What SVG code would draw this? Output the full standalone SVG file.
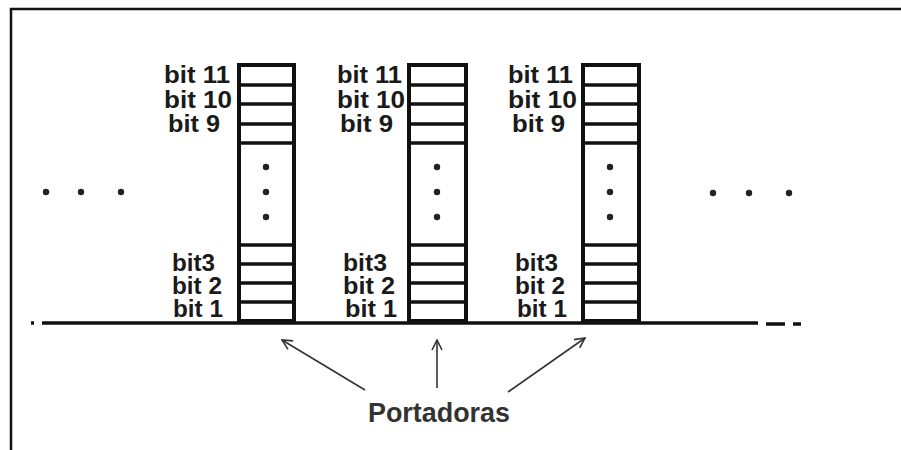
<svg xmlns="http://www.w3.org/2000/svg" width="901" height="450" viewBox="0 0 901 450">
<defs>
<style>
.lbl{font-family:"Liberation Sans",Arial,sans-serif;font-weight:bold;font-size:23.5px;fill:#1a1a1a}
.box{fill:none;stroke:#111;stroke-width:4}
.row{stroke:#111;stroke-width:3.5}
.dot{fill:#222}
.arr{stroke:#333;stroke-width:1.6;fill:none}
</style>
<marker id="ah" viewBox="0 0 12 12" refX="11" refY="6" markerWidth="12" markerHeight="12" markerUnits="userSpaceOnUse" orient="auto">
<path d="M1,1 L11,6 L1,11" fill="none" stroke="#333" stroke-width="1.6"/>
</marker>
</defs>
<rect width="901" height="450" fill="#fff"/>
<!-- frame -->
<path d="M11,450 V9 H901" fill="none" stroke="#111" stroke-width="2.5"/>
<!-- side dots -->
<g id="dots-left">
<circle class="dot" cx="46" cy="192" r="3.2"/>
<circle class="dot" cx="81" cy="192" r="3.2"/>
<circle class="dot" cx="121" cy="192" r="3.2"/>
</g>
<g id="dots-right">
<circle class="dot" cx="713" cy="193" r="3.2"/>
<circle class="dot" cx="749" cy="193" r="3.2"/>
<circle class="dot" cx="789" cy="193" r="3.2"/>
</g>
<!-- baseline -->
<g id="baseline" stroke="#111" stroke-width="3.5">
<line x1="31" y1="323" x2="34" y2="323"/>
<line x1="42" y1="323" x2="758" y2="323"/>
<line x1="766" y1="324" x2="785" y2="324"/>
<line x1="793" y1="324" x2="801" y2="324"/>
</g>
<!-- carrier 1 -->
<g id="carrier1">
<rect class="box" x="239" y="65" width="55" height="256"/>
<g class="row"><line x1="239" y1="85" x2="294" y2="85"/><line x1="239" y1="104" x2="294" y2="104"/><line x1="239" y1="124" x2="294" y2="124"/><line x1="239" y1="143" x2="294" y2="143"/><line x1="239" y1="245" x2="294" y2="245"/><line x1="239" y1="264" x2="294" y2="264"/><line x1="239" y1="283" x2="294" y2="283"/><line x1="239" y1="302" x2="294" y2="302"/></g>
<circle class="dot" cx="266" cy="167" r="3.2"/><circle class="dot" cx="266" cy="192" r="3.2"/><circle class="dot" cx="266" cy="217" r="3.2"/>
<text class="lbl" x="164" y="83" textLength="66" lengthAdjust="spacingAndGlyphs">bit 11</text>
<text class="lbl" x="164" y="108" textLength="68" lengthAdjust="spacingAndGlyphs">bit 10</text>
<text class="lbl" x="168" y="132" textLength="52" lengthAdjust="spacingAndGlyphs">bit 9</text>
<text class="lbl" x="172" y="271" textLength="43" lengthAdjust="spacingAndGlyphs">bit3</text>
<text class="lbl" x="172" y="294" textLength="50" lengthAdjust="spacingAndGlyphs">bit 2</text>
<text class="lbl" x="173" y="317" textLength="50" lengthAdjust="spacingAndGlyphs">bit 1</text>
</g>
<!-- carrier 2 -->
<g id="carrier2">
<rect class="box" x="409" y="65" width="57" height="256"/>
<g class="row"><line x1="409" y1="85" x2="466" y2="85"/><line x1="409" y1="104" x2="466" y2="104"/><line x1="409" y1="124" x2="466" y2="124"/><line x1="409" y1="143" x2="466" y2="143"/><line x1="409" y1="245" x2="466" y2="245"/><line x1="409" y1="264" x2="466" y2="264"/><line x1="409" y1="283" x2="466" y2="283"/><line x1="409" y1="302" x2="466" y2="302"/></g>
<circle class="dot" cx="437" cy="167" r="3.2"/><circle class="dot" cx="437" cy="192" r="3.2"/><circle class="dot" cx="437" cy="217" r="3.2"/>
<text class="lbl" x="337" y="83" textLength="65" lengthAdjust="spacingAndGlyphs">bit 11</text>
<text class="lbl" x="337" y="108" textLength="68" lengthAdjust="spacingAndGlyphs">bit 10</text>
<text class="lbl" x="340" y="132" textLength="53" lengthAdjust="spacingAndGlyphs">bit 9</text>
<text class="lbl" x="343" y="271" textLength="44" lengthAdjust="spacingAndGlyphs">bit3</text>
<text class="lbl" x="343" y="294" textLength="52" lengthAdjust="spacingAndGlyphs">bit 2</text>
<text class="lbl" x="345" y="317" textLength="52" lengthAdjust="spacingAndGlyphs">bit 1</text>
</g>
<!-- carrier 3 -->
<g id="carrier3">
<rect class="box" x="583" y="65" width="56" height="256"/>
<g class="row"><line x1="583" y1="85" x2="639" y2="85"/><line x1="583" y1="104" x2="639" y2="104"/><line x1="583" y1="124" x2="639" y2="124"/><line x1="583" y1="143" x2="639" y2="143"/><line x1="583" y1="245" x2="639" y2="245"/><line x1="583" y1="264" x2="639" y2="264"/><line x1="583" y1="283" x2="639" y2="283"/><line x1="583" y1="302" x2="639" y2="302"/></g>
<circle class="dot" cx="610" cy="167" r="3.2"/><circle class="dot" cx="610" cy="192" r="3.2"/><circle class="dot" cx="610" cy="217" r="3.2"/>
<text class="lbl" x="508" y="83" textLength="65" lengthAdjust="spacingAndGlyphs">bit 11</text>
<text class="lbl" x="508" y="108" textLength="69" lengthAdjust="spacingAndGlyphs">bit 10</text>
<text class="lbl" x="512" y="132" textLength="53" lengthAdjust="spacingAndGlyphs">bit 9</text>
<text class="lbl" x="515" y="271" textLength="43" lengthAdjust="spacingAndGlyphs">bit3</text>
<text class="lbl" x="515" y="294" textLength="50" lengthAdjust="spacingAndGlyphs">bit 2</text>
<text class="lbl" x="517" y="317" textLength="50" lengthAdjust="spacingAndGlyphs">bit 1</text>
</g>
<!-- label -->
<g id="portadoras">
<text x="368" y="422" font-family="'Liberation Sans',Arial,sans-serif" font-weight="bold" font-size="27" fill="#333" textLength="142" lengthAdjust="spacingAndGlyphs">Portadoras</text>
</g>
<!-- connectors -->
<g id="connectors">
<line class="arr" x1="365" y1="390" x2="282" y2="340" marker-end="url(#ah)"/>
<line class="arr" x1="437" y1="388" x2="437" y2="340" marker-end="url(#ah)"/>
<line class="arr" x1="508" y1="392" x2="585" y2="338" marker-end="url(#ah)"/>
</g>
</svg>
